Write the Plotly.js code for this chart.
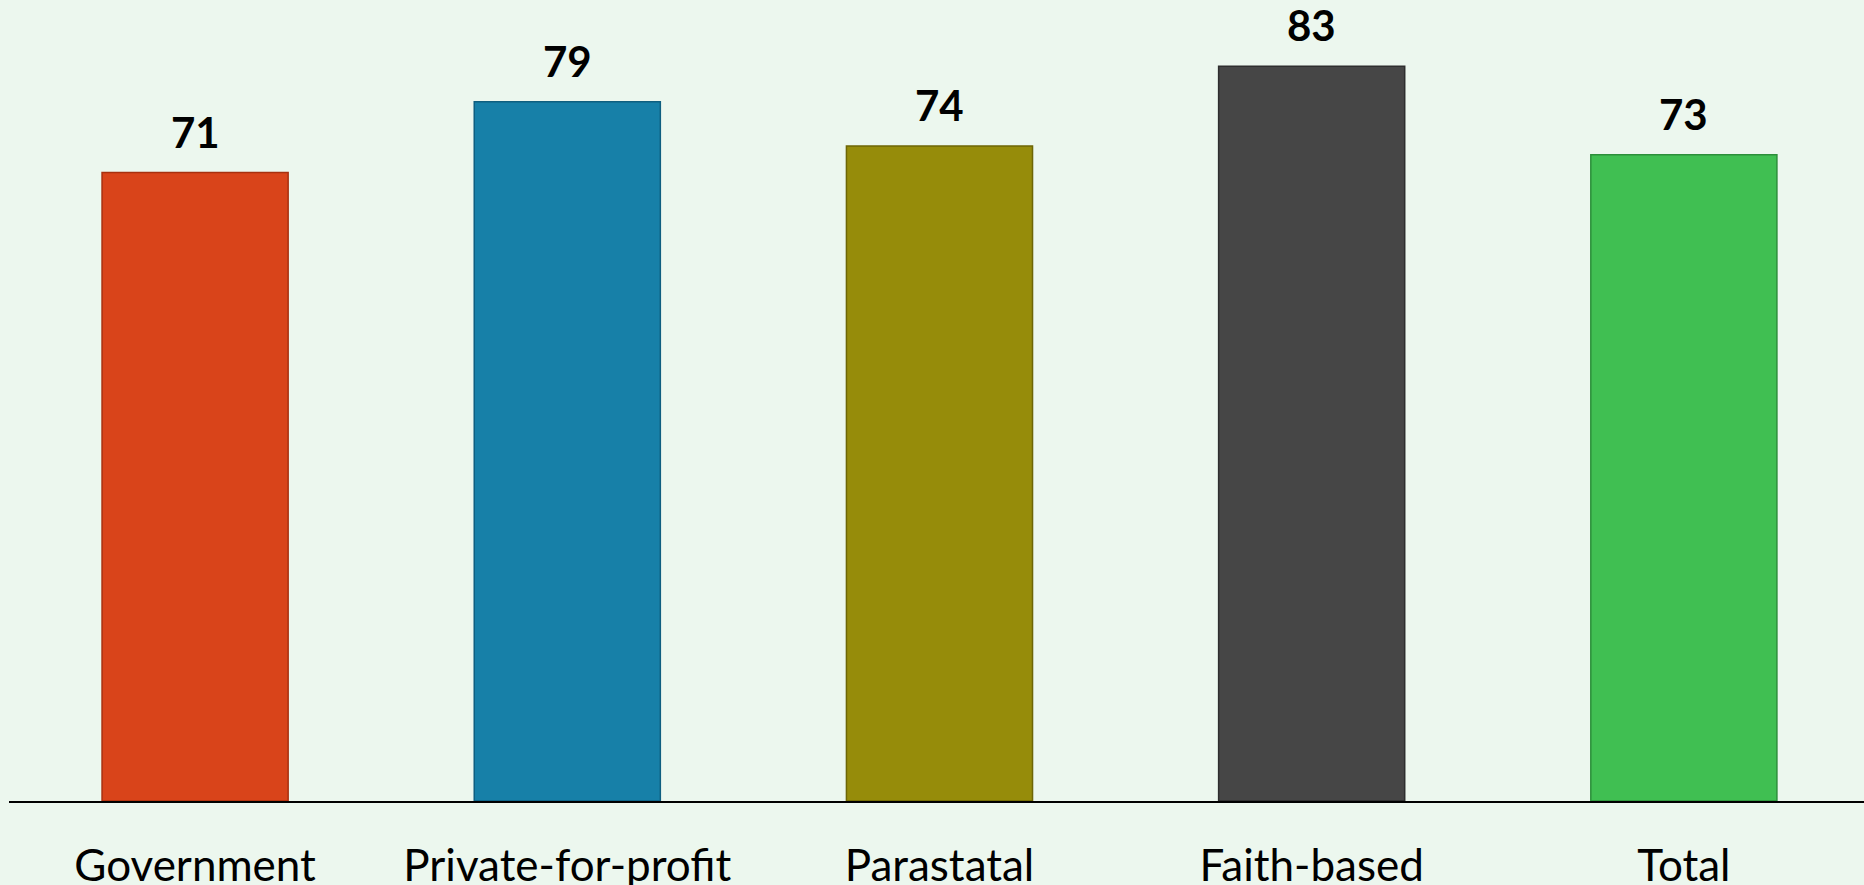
<!DOCTYPE html>
<html>
<head>
<meta charset="utf-8">
<script src="https://cdn.plot.ly/plotly-3.0.1.min.js"></script>
<style>
html,body{margin:0;padding:0;background:#ecf7ee;}
#chart{width:1864px;height:885px;}
</style>
</head>
<body>
<div id="chart"></div>
<script>
const categories = ["Government", "Private-for-profit", "Parastatal", "Faith-based", "Total"];
const values = [71, 79, 74, 83, 73];
const barColors = ["#d9441a", "#1780a8", "#968c0a", "#464646", "#40bf52"];
const edgeColors = ["#a8300f", "#0f5f80", "#6d6605", "#2e2e2e", "#2c8f3a"];

const trace = {
  type: "bar",
  x: categories,
  y: values,
  marker: {color: barColors, line: {color: edgeColors, width: 1.5}},
  hoverinfo: "x+y",
  showlegend: false
};

const annotations = categories.map((c, i) => ({
  x: c, y: values[i], xref: "x", yref: "y",
  text: "<b>" + values[i] + "</b>",
  showarrow: false, yanchor: "bottom", yshift: 14,
  font: {family: "Lato, sans-serif", size: 42, color: "#000000"}
}));

const layout = {
  width: 1864, height: 885,
  paper_bgcolor: "#ecf7ee",
  plot_bgcolor: "#ecf7ee",
  margin: {l: 9, r: 0, t: 0, b: 84, pad: 0},
  bargap: 0.5,
  xaxis: {
    type: "category",
    range: [-0.5, 4.484],
    showgrid: false, zeroline: false,
    showline: true, linecolor: "#000000", linewidth: 1.5,
    ticks: "", ticklabelstandoff: 25,
    tickfont: {family: "Lato, sans-serif", size: 44, color: "#000000"}
  },
  yaxis: {
    range: [0, 90.49],
    showgrid: false, zeroline: false, showline: false,
    showticklabels: false, ticks: ""
  },
  annotations: annotations
};

Plotly.newPlot("chart", [trace], layout, {displayModeBar: false, responsive: false});
</script>
</body>
</html>
